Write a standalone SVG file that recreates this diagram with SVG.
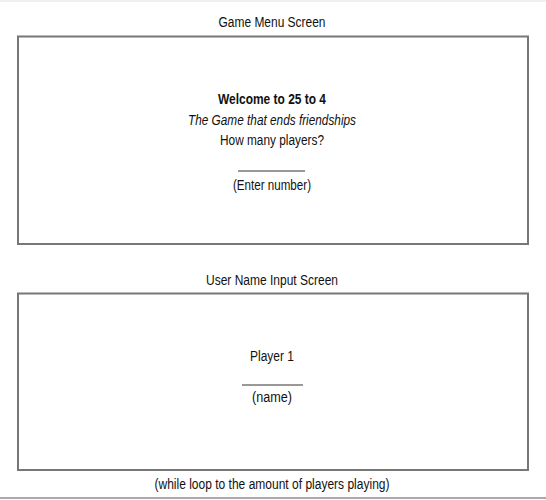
<svg xmlns="http://www.w3.org/2000/svg" width="546" height="500" viewBox="0 0 546 500">
  <style>
    .t { font-family: "Liberation Sans", Arial, sans-serif; font-size: 14px; fill: #111; text-anchor: middle; }
    .b { font-weight: bold; }
    .i { font-style: italic; }
    .box { fill: #fff; stroke: #777; stroke-width: 2; }
    .rule { stroke: #333; stroke-width: 1; }
  </style>
  <rect x="0" y="0" width="546" height="500" fill="#fff"/>
  <line x1="0" y1="1" x2="546" y2="1" stroke="#f0f0f0" stroke-width="2"/>
  <g id="game-menu-screen">
    <text class="t" x="272" y="27" textLength="107" lengthAdjust="spacingAndGlyphs">Game Menu Screen</text>
    <rect class="box" x="18" y="36.5" width="510" height="207.5"/>
    <text class="t b" x="272" y="104" textLength="108" lengthAdjust="spacingAndGlyphs">Welcome to 25 to 4</text>
    <text class="t i" x="272" y="125" textLength="168" lengthAdjust="spacingAndGlyphs">The Game that ends friendships</text>
    <text class="t" x="272" y="145" textLength="104" lengthAdjust="spacingAndGlyphs">How many players?</text>
    <line class="rule" x1="238" y1="171" x2="305" y2="171"/>
    <text class="t" x="272" y="190" textLength="78" lengthAdjust="spacingAndGlyphs">(Enter number)</text>
  </g>
  <g id="user-name-input-screen">
    <text class="t" x="272" y="285" textLength="132" lengthAdjust="spacingAndGlyphs">User Name Input Screen</text>
    <rect class="box" x="18" y="293.5" width="510" height="176.5"/>
    <text class="t" x="272" y="361" textLength="44" lengthAdjust="spacingAndGlyphs">Player 1</text>
    <line class="rule" x1="242" y1="385" x2="303" y2="385"/>
    <text class="t" x="272" y="402" textLength="40" lengthAdjust="spacingAndGlyphs">(name)</text>
    <text class="t" x="272" y="489" textLength="235" lengthAdjust="spacingAndGlyphs">(while loop to the amount of players playing)</text>
  </g>
  <g id="connectors">
    <line x1="0" y1="498" x2="546" y2="498" stroke="#aaa" stroke-width="2"/>
  </g>
</svg>
